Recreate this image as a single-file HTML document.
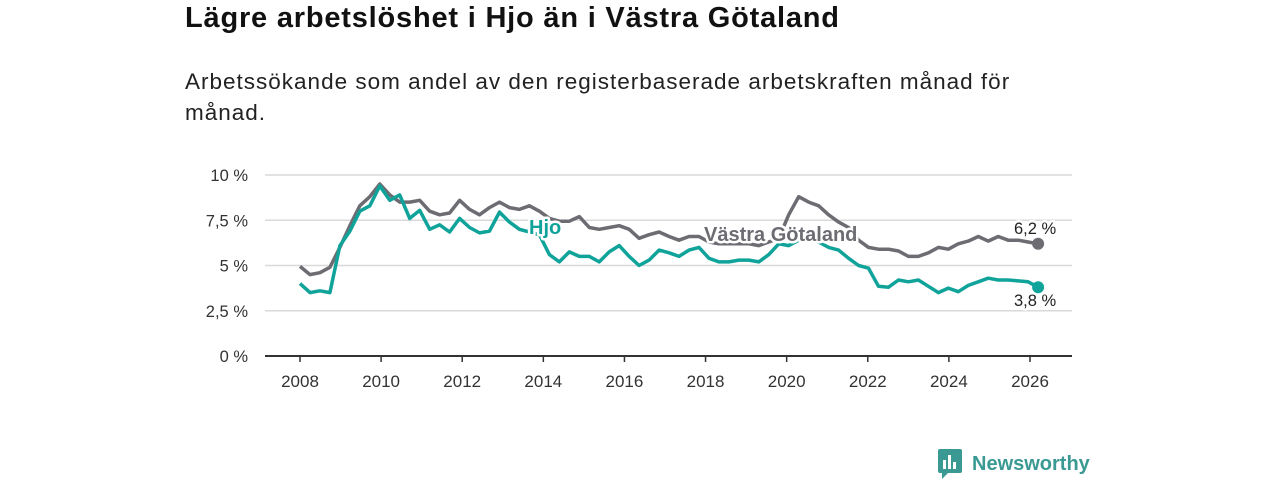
<!DOCTYPE html>
<html><head><meta charset="utf-8">
<style>
body{margin:0;width:1280px;height:480px;background:#fff;font-family:"Liberation Sans","DejaVu Sans",sans-serif;overflow:hidden;position:relative}
h1{position:absolute;left:185px;top:2px;margin:0;font-size:29px;letter-spacing:0.8px;font-weight:bold;color:#111}
p{position:absolute;left:185px;top:66px;margin:0;font-size:22.5px;letter-spacing:1px;line-height:31px;color:#222;width:1000px}
</style></head><body>
<h1>Lägre arbetslöshet i Hjo än i Västra Götaland</h1>
<p>Arbetssökande som andel av den registerbaserade arbetskraften månad för<br>månad.</p>
<svg id="chart" width="1280" height="480" style="position:absolute;left:0;top:0">
</svg>
<script>
const hjo=[4.0,3.5,3.6,3.5,6.1,6.9,8.0,8.3,9.4,8.6,8.9,7.6,8.05,7.0,7.25,6.85,7.6,7.1,6.8,6.9,7.95,7.4,7.0,6.85,6.7,5.6,5.2,5.75,5.5,5.5,5.2,5.75,6.1,5.5,5.0,5.3,5.85,5.7,5.5,5.85,6.0,5.4,5.2,5.2,5.3,5.3,5.2,5.6,6.2,6.1,6.4,6.4,6.3,6.0,5.85,5.4,5.0,4.85,3.85,3.8,4.2,4.1,4.2,3.85,3.5,3.75,3.55,3.9,4.1,4.3,4.2,4.2,4.15,4.1,3.8];
const vg=[4.95,4.5,4.6,4.9,6.0,7.2,8.3,8.8,9.5,8.9,8.5,8.5,8.6,8.0,7.8,7.9,8.6,8.1,7.8,8.2,8.5,8.2,8.1,8.3,8.0,7.6,7.45,7.45,7.7,7.1,7.0,7.1,7.2,7.0,6.5,6.7,6.85,6.6,6.4,6.6,6.6,6.3,6.2,6.2,6.2,6.2,6.1,6.3,6.5,7.8,8.8,8.5,8.3,7.8,7.4,7.1,6.4,6.0,5.9,5.9,5.8,5.5,5.5,5.7,6.0,5.9,6.2,6.35,6.6,6.35,6.6,6.4,6.4,6.3,6.2];
const yTicks=[0,2.5,5,7.5,10];
const yTickLabels=["0 %","2,5 %","5 %","7,5 %","10 %"];
const xTicks=[2008,2010,2012,2014,2016,2018,2020,2022,2024,2026];
const svg=document.getElementById('chart');
const NS='http://www.w3.org/2000/svg';
const X=y=>300+(y-2008)*(730/18);
const Y=v=>356-v*18.1;
const T=k=>2008+k*(18.2/74);
function mk(t,a){const e=document.createElementNS(NS,t);for(const k in a)e.setAttribute(k,a[k]);svg.appendChild(e);return e;}
yTicks.forEach((v,i)=>{
 const g=mk('line',{x1:265,x2:1072,y1:Y(v),y2:Y(v),stroke:v==0?'#333':'#d9d9d9','stroke-width':v==0?2:1.5});
 
 
 const t=mk('text',{x:248,y:Y(v)+6,'text-anchor':'end','font-size':16.5,fill:'#333'});t.textContent=yTickLabels[i];
 
 
});
xTicks.forEach(yr=>{
 const l=mk('line',{x1:X(yr),x2:X(yr),y1:356,y2:362,stroke:'#333','stroke-width':1.5});
 
 
 const t=mk('text',{x:X(yr),y:387,'text-anchor':'middle','font-size':17,fill:'#333'});t.textContent=yr;
 
 
});
function line(d,c,name){
 const p=mk('path',{d:d.map((v,k)=>(k?'L':'M')+X(T(k)).toFixed(1)+','+Y(v).toFixed(1)).join(''),fill:'none',stroke:c,'stroke-width':3.5,'stroke-linejoin':'round'});
 
 
 const n=d.length-1;
 const c2=mk('circle',{cx:X(T(n)),cy:Y(d[n]),r:6,fill:c});
 
 
}
line(vg,'#6d6c72','line-vastra-gotaland');
line(hjo,'#10a39a','line-hjo');
function lbl(x,y,s,c,name,fs,bold,halo){
 const t=mk('text',{x:x,y:y,'font-size':fs,fill:c,'font-weight':bold?'bold':'normal'});
 if(halo){t.setAttribute('stroke','#fff');t.setAttribute('stroke-width',5);t.setAttribute('paint-order','stroke');t.setAttribute('stroke-linejoin','round');}
 t.textContent=s;
 
 
}
lbl(529,234,'Hjo','#10a39a','label-hjo',20,true,true);
lbl(704,241,'Västra Götaland','#6d6c72','label-vastra-gotaland',20,true,true);
lbl(1014,234,'6,2 %','#222','end-value-vg',16.5,false,true);
lbl(1014,306,'3,8 %','#222','end-value-hjo',16.5,false,true);
</script>
<div style="position:absolute;left:938px;top:449px;height:30px;display:flex;align-items:center">
 <svg width="26" height="30"><rect x="0" y="0" width="24" height="24" rx="2" fill="#3a9a93"/><polygon points="4,24 10,24 4,30" fill="#3a9a93"/><rect x="5" y="11" width="3" height="9" fill="#fff"/><rect x="10" y="6" width="3" height="14" fill="#fff"/><rect x="15" y="13" width="3" height="7" fill="#fff"/></svg>
 <span style="margin-left:8px;font-size:20px;font-weight:bold;color:#3a9a93">Newsworthy</span>
</div>
</body></html>
